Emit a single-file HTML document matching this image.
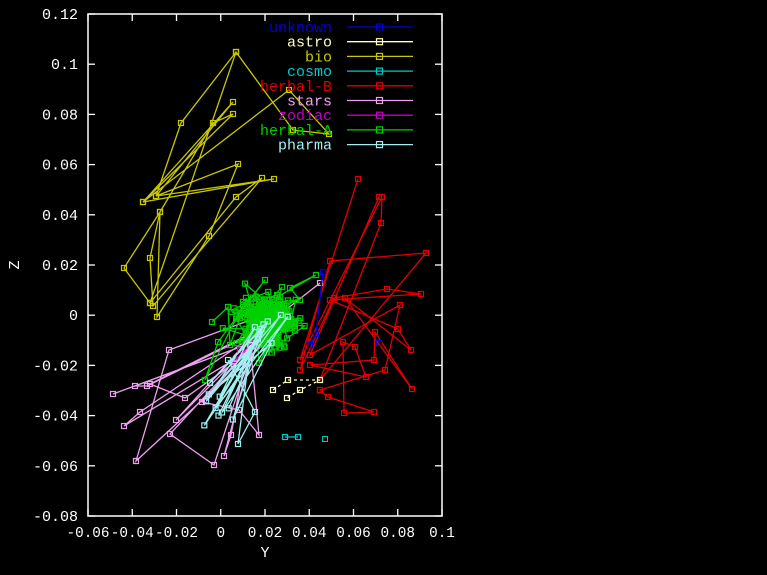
<!DOCTYPE html>
<html><head><meta charset="utf-8"><style>
html,body{margin:0;padding:0;background:#000;}
svg{display:block;}
text{font-family:"Liberation Mono","DejaVu Sans Mono",monospace;font-size:15px;}
</style></head><body>
<svg id="s" width="767" height="575" xmlns="http://www.w3.org/2000/svg">
<rect width="767" height="575" fill="#000"/>
<g id="data"></g>
<g stroke="#fff" stroke-width="1.5" fill="none">
<rect x="88" y="14" width="354" height="502"/>
</g>
<g id="ticks" stroke="#fff" stroke-width="1.3"></g>
<g id="labels" fill="#fff"></g>
<text x="265" y="557" fill="#fff" text-anchor="middle">Y</text>
<text x="19" y="265" fill="#fff" text-anchor="middle" transform="rotate(-90 19 265)">Z</text>
<g id="legend"></g>
</svg>
<script>
var NS="http://www.w3.org/2000/svg";
function el(t,a,p,txt){var e=document.createElementNS(NS,t);for(var k in a)e.setAttribute(k,a[k]);if(txt!=null)e.textContent=txt;p.appendChild(e);return e;}
var ticks=document.getElementById('ticks'),labels=document.getElementById('labels'),data=document.getElementById('data'),leg=document.getElementById('legend');
var xl=["-0.06","-0.04","-0.02","0","0.02","0.04","0.06","0.08","0.1"];
for(var i=0;i<9;i++){var x=88+i*44.25;el('line',{x1:x,y1:516,x2:x,y2:509},ticks);el('line',{x1:x,y1:14,x2:x,y2:21},ticks);
el('text',{x:x,y:537,'text-anchor':'middle','textLength':(xl[i].length*8.6).toFixed(1),'lengthAdjust':'spacingAndGlyphs'},labels,xl[i]);}
var yl=["0.12","0.1","0.08","0.06","0.04","0.02","0","-0.02","-0.04","-0.06","-0.08"];
for(var i=0;i<11;i++){var y=14+i*50.2;el('line',{x1:88,y1:y,x2:95,y2:y},ticks);el('line',{x1:442,y1:y,x2:435,y2:y},ticks);
el('text',{x:78,y:y+5,'text-anchor':'end'},labels,yl[i]);}
var seed=7;function r(){seed=(seed*16807)%2147483647;return seed/2147483647;}
function g(){return (r()+r()+r()-1.5)/1.5;}
function series(pts,col,dash){
 el('polyline',{points:pts.map(function(p){return p[0].toFixed(1)+','+p[1].toFixed(1)}).join(' '),fill:'none',stroke:col,'stroke-width':1.3,'stroke-dasharray':dash||'none'},data);
 pts.forEach(function(p){el('rect',{x:p[0]-2.5,y:p[1]-2.5,width:5,height:5,fill:'none',stroke:col,'stroke-width':1.2},data);});
}
function hub(){var t=g();return [262+t*20+g()*25,332-t*15+g()*25];}
// bio
series([[236,52],[181,123],[156,196],[233,102],[143,202],[233,114],[213,123],[160,212],[124,268],[150,303],[236,197],[262,178],[153,306],[150,258],[160,212],[157,317],[209,236],[238,164],[156,196],[274,179],[143,202],[289,90],[329,134],[293,130],[236,52],[150,303]],'#c8c800');
// herbal-B
series([[358,179],[300,360],[382,197],[381,223],[320,380],[426,253],[330,261],[300,370],[334,298],[387,289],[421,294],[330,300],[398,329],[411,350],[345,298],[412,389],[375,332],[374,360],[310,365],[366,377],[355,347],[343,342],[344,413],[374,412],[328,397],[320,390],[385,370],[400,305],[310,355],[379,197]],'#e00000');
// stars
var st=[[113,394],hub(),[135,386],[147,386],hub(),[140,412],[124,426],hub(),[136,461],[169,350],hub(),[176,420],hub(),[170,434],[214,465],hub(),[224,456],[231,435],hub(),[259,435],[239,410],[202,402],hub(),[185,398],[150,384],hub(),[320,283]];
series(st,'#f0a0f0');
// zodiac
series([[240,350],[265,330],[235,360]],'#c000c0');
// herbal-A cluster
var ga=[];for(var i=0;i<190;i++){var t=g();ga.push([266+t*22+g()*38,322-t*15+g()*36]);}
ga.push([265,280],[218,342],[205,380],[243,305],[300,300],[290,288],[316,275],[240,318],[230,345],[228,307],[212,322]);
series(ga,'#00d000');
// pharma
var ph=[];for(var i=0;i<10;i++){ph.push([215+g()*30,405+g()*35]);ph.push(hub());}
ph.push([238,444],[255,412],[228,360]);
series(ph,'#a0f0f0');
// cosmo
series([[285,437],[298,437]],'#00c8c8');
el('rect',{x:322.5,y:436.5,width:5,height:5,fill:'none',stroke:'#00c8c8'},data);
// astro
series([[273,390],[288,380],[320,380],[300,390],[287,398]],'#ffffc0','3,3');
// unknown
series([[323,272],[316,334],[310,345]],'#0000e0');
el('rect',{x:376.5,y:340.5,width:5,height:5,fill:'none',stroke:'#0000e0'},data);
// legend
var L=[["unknown","#0000e0"],["astro","#ffffc0"],["bio","#c8c800"],["cosmo","#00c8c8"],["herbal-B","#e00000"],["stars","#f0a0f0"],["zodiac","#c000c0"],["herbal-A","#00d000"],["pharma","#a0f0f0"]];
L.forEach(function(l,i){var y=27+i*14.7;
el('text',{x:332,y:y+5,'text-anchor':'end',fill:l[1]},leg,l[0]);
el('line',{x1:347,y1:y,x2:413,y2:y,stroke:l[1],'stroke-width':1.3},leg);
el('rect',{x:376.5,y:y-3,width:6,height:6,fill:'none',stroke:l[1],'stroke-width':1.2},leg);});
</script>
</body></html>
